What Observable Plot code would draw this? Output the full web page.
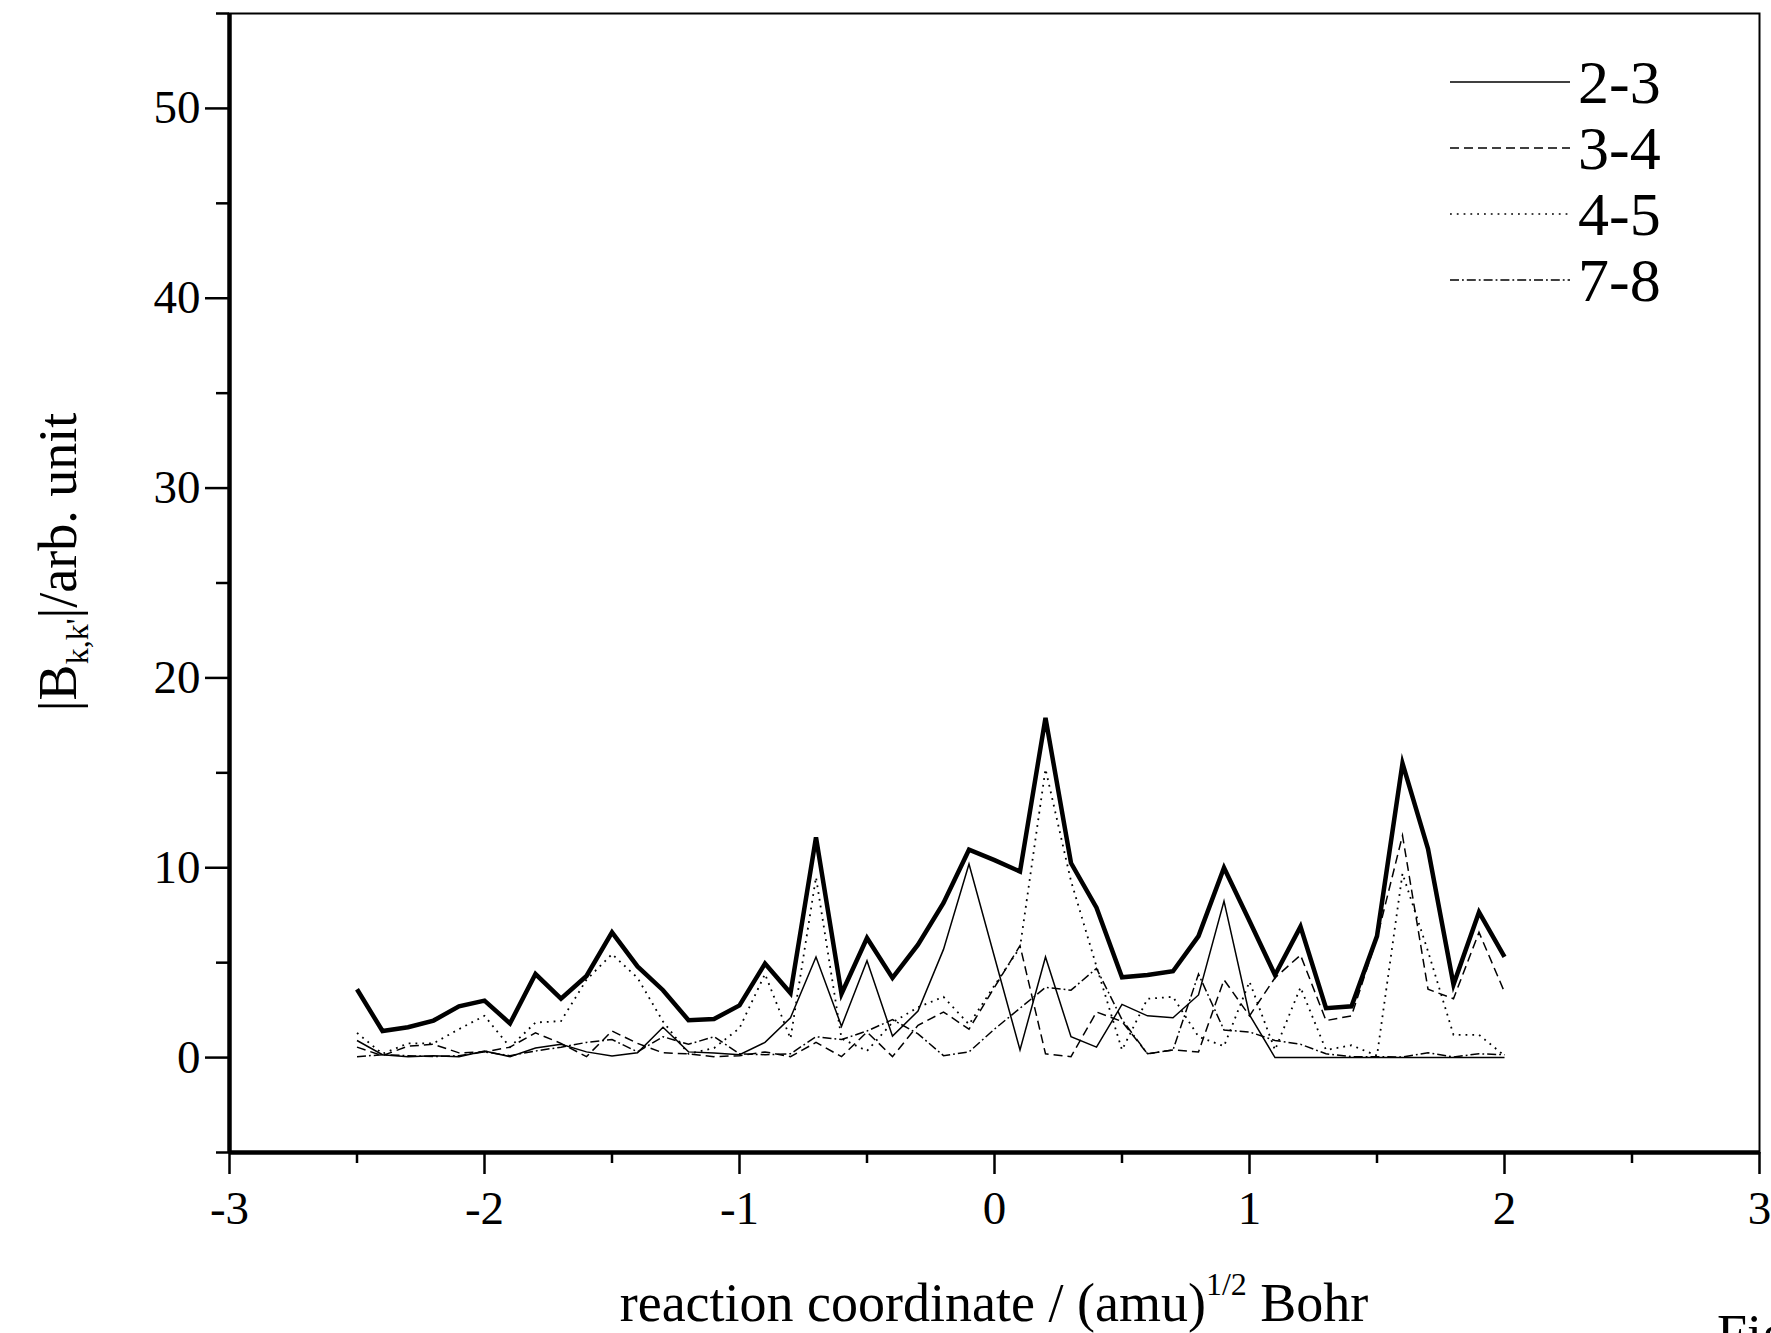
<!DOCTYPE html>
<html><head><meta charset="utf-8">
<script src="https://cdn.jsdelivr.net/npm/d3@7"></script>
<script src="https://cdn.jsdelivr.net/npm/@observablehq/plot@0.6"></script>
<style>
html,body{margin:0;padding:0;background:#fff;}
#wrap{position:relative;width:1771px;height:1333px;overflow:hidden;background:#fff;}
</style></head><body><div id="wrap"></div>
<script>
// reaction coordinate grid
const xs = [-2.5,-2.4,-2.3,-2.2,-2.1,-2.0,-1.9,-1.8,-1.7,-1.6,-1.5,-1.4,-1.3,-1.2,-1.1,-1.0,-0.9,-0.8,-0.7,-0.6,-0.5,-0.4,-0.3,-0.2,-0.1,0.0,0.1,0.2,0.3,0.4,0.5,0.6,0.7,0.8,0.9,1.0,1.1,1.2,1.3,1.4,1.5,1.6,1.7,1.8,1.9,2.0];
// bold (unlabelled) curve
const total = [3.6,1.4,1.6,1.95,2.7,3.0,1.8,4.4,3.1,4.3,6.6,4.8,3.55,1.97,2.03,2.75,4.95,3.4,11.6,3.36,6.3,4.2,5.95,8.15,10.95,10.4,9.8,17.9,10.25,7.9,4.23,4.35,4.55,6.4,10.0,7.2,4.35,6.9,2.6,2.7,6.4,15.5,11.0,3.85,7.66,5.3];
const s23 = [0.9,0.15,0.05,0.1,0.05,0.35,0.05,0.5,0.7,0.3,0.08,0.25,1.6,0.3,0.24,0.15,0.8,2.1,5.3,1.65,5.1,1.13,2.45,5.7,10.2,5.3,0.4,5.3,1.1,0.55,2.8,2.2,2.1,3.3,8.24,2.25,0,0,0,0,0,0,0,0,0,0];
const s34 = [0.55,0.1,0.6,0.7,0.25,0.3,0.55,1.3,0.75,0.05,1.4,0.75,0.25,0.2,0.05,0.1,0.3,0.05,0.8,0.05,1.35,0.05,1.7,2.4,1.5,3.7,5.9,0.2,0.05,2.4,1.9,0.2,0.4,0.3,4.1,2.2,4.2,5.4,1.95,2.2,6.3,11.7,3.6,3.1,6.6,3.45];
const s45 = [1.3,0.2,0.75,0.75,1.5,2.2,0.55,1.85,1.92,4.1,5.45,4.2,1.9,0.2,0.5,1.55,4.4,1.0,9.5,1.0,0.35,1.85,2.65,3.2,1.75,3.8,5.8,15.2,9.3,4.8,0.4,3.1,3.2,1.1,0.6,4.0,0.4,3.7,0.4,0.65,0.1,9.7,5.6,1.2,1.2,0.1];
const s78 = [0.05,0.15,0.1,0.05,0.1,0.3,0.1,0.35,0.55,0.8,0.95,0.3,1.1,0.7,1.1,0.2,0.15,0.2,1.1,0.95,1.4,2.0,1.25,0.1,0.3,1.5,2.6,3.7,3.55,4.7,2.0,0.2,0.4,4.4,1.45,1.35,0.9,0.7,0.2,0.05,0.05,0.03,0.25,0.03,0.2,0.15];
const seriesNames = ["2-3","3-4","4-5","7-8"];
const xDomain = [-3, 3];
const yDomain = [-5, 55];
const xMajor = [-3,-2,-1,0,1,2,3];
const xMinor = [-2.5,-1.5,-0.5,0.5,1.5,2.5];
const yMajor = [0,10,20,30,40,50];
const yMinor = [-5,5,15,25,35,45,55];

// styles (kept apart from the data)
const dashes = {"2-3": null, "3-4": "9,5", "4-5": "1.8,5", "7-8": "9,3,1.8,3"};
const widths = {"2-3": 1.5, "3-4": 1.5, "4-5": 1.8, "7-8": 1.5};
const FONT = "'Liberation Serif','Times New Roman',serif";

const seriesValues = [s23, s34, s45, s78];
const rows = [];
seriesNames.forEach((name, i) => xs.forEach((x, j) => rows.push({series: name, x, y: seriesValues[i][j]})));
const totalRows = xs.map((x, j) => ({x, y: total[j]}));

const W = 1771, H = 1333;
const chart = Plot.plot({
  width: W, height: H,
  marginLeft: 229, marginRight: 12, marginTop: 13, marginBottom: 181,
  x: {domain: xDomain},
  y: {domain: yDomain},
  style: {fontFamily: FONT, fontSize: "47px", color: "#000", background: "#fff"},
  marks: [
    Plot.frame({stroke: "#000", strokeWidth: 2}),
    Plot.ruleX([xDomain[0]], {stroke: "#000", strokeWidth: 4.5}),
    Plot.ruleY([yDomain[0]], {stroke: "#000", strokeWidth: 4.5}),
    Plot.axisY(yMajor, {anchor: "left", tickSize: 24, tickPadding: 5, strokeWidth: 2.5, tickFormat: d => String(d), label: null}),
    Plot.axisY(yMinor, {anchor: "left", tickSize: 13, strokeWidth: 2.5, tickFormat: () => "", label: null}),
    Plot.axisX(xMajor, {anchor: "bottom", tickSize: 22, tickPadding: 16, strokeWidth: 2.5, tickFormat: d => String(d), label: null}),
    Plot.axisX(xMinor, {anchor: "bottom", tickSize: 11, strokeWidth: 2.5, tickFormat: () => "", label: null}),
    ...seriesNames.map(name => Plot.line(rows.filter(r => r.series === name), {
      x: "x", y: "y", stroke: "#000", strokeWidth: widths[name],
      strokeDasharray: dashes[name], strokeLinecap: "butt", strokeLinejoin: "miter", strokeMiterlimit: 6
    })),
    Plot.line(totalRows, {x: "x", y: "y", stroke: "#000", strokeWidth: 4.5, strokeLinejoin: "miter", strokeMiterlimit: 5, strokeLinecap: "butt"})
  ]
});
document.getElementById("wrap").appendChild(chart);

const svg = d3.select(chart);
// legend
const lg = svg.append("g").attr("font-family", FONT).attr("font-size", 62).attr("fill", "#000").attr("text-anchor", "start");
seriesNames.forEach((name, i) => {
  const y = 82 + i * 66;
  lg.append("line").attr("x1", 1450).attr("x2", 1570).attr("y1", y).attr("y2", y)
    .attr("stroke", "#000").attr("stroke-width", 1.5)
    .attr("stroke-dasharray", dashes[name]);
  lg.append("text").attr("x", 1578).attr("y", y + 21).text(name);
});
// x axis title with superscript
const xt = svg.append("text").attr("font-family", FONT).attr("font-size", 54).attr("fill", "#000")
  .attr("text-anchor", "middle").attr("x", 994).attr("y", 1321);
xt.append("tspan").text("reaction coordinate / (amu)");
xt.append("tspan").attr("font-size", 32).attr("dy", -26).text("1/2");
xt.append("tspan").attr("dy", 26).text(" Bohr");
// y axis title with subscript
const yt = svg.append("text").attr("font-family", FONT).attr("font-size", 54).attr("fill", "#000")
  .attr("text-anchor", "middle").attr("transform", "translate(76,562) rotate(-90)");
yt.append("tspan").text("|B");
yt.append("tspan").attr("font-size", 32).attr("dy", 12).text("k,k'");
yt.append("tspan").attr("dy", -12).text("|/arb. unit");
// figure caption, clipped at the bottom-right edge as in the source image
svg.append("text").attr("font-family", FONT).attr("font-size", 54).attr("fill", "#000")
  .attr("text-anchor", "start").attr("x", 1717).attr("y", 1352).text("Fig.");
</script>
</body></html>
